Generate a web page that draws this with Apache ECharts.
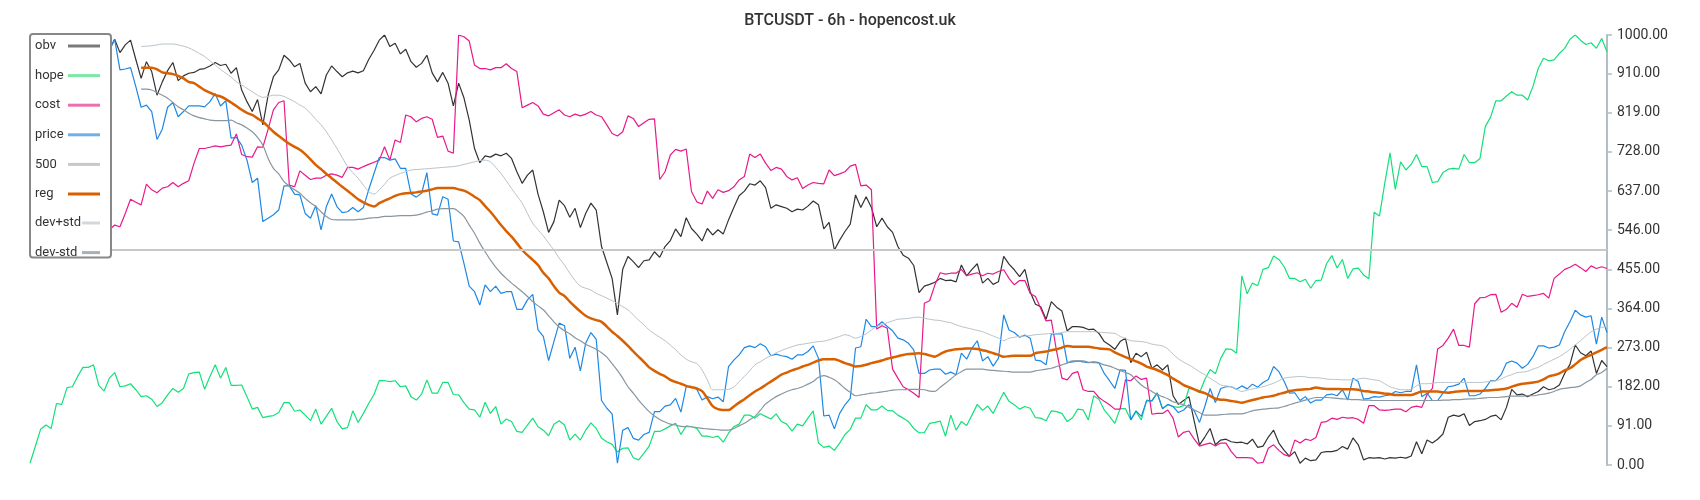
<!DOCTYPE html>
<html>
<head>
<meta charset="utf-8">
<script src="https://cdn.jsdelivr.net/npm/echarts/dist/echarts.min.js"></script>
<style>html,body{margin:0;padding:0;background:#fff}#chart{width:1700px;height:500px}</style>
</head>
<body>
<div id="chart"></div>
<script>
const N = 299;
const categories = Array.from({length: N}, (_, i) => i);
const yTickStep = 91;
const levelLine = 500;

const obv = [880,900,915,930,925,945,960,950,968,975,970,982,990,978,970,965,
990,959,977,988,943,
899,938,915,860,891,917,936,894,905,911,
913,920,922,928,936,929,932,911,924,872,
845,822,850,791,860,903,919,953,942,926,
934,888,868,880,863,907,928,915,903,912,
916,912,917,943,964,988,1000,973,981,956,
967,938,925,934,953,912,891,913,888,835,
888,854,802,736,703,719,716,723,719,725,
713,682,655,674,686,630,589,541,566,616,
603,576,597,552,585,609,593,508,471,434,
349,455,485,473,459,475,477,496,483,508,
522,549,531,575,550,537,521,550,535,547,
537,570,599,626,637,654,651,661,645,597,
605,601,597,589,595,593,602,614,605,549,
564,500,523,543,560,628,599,624,599,554,
574,554,541,508,488,481,464,401,416,420,
425,434,429,430,426,465,440,455,468,423,
434,420,426,485,467,454,438,455,403,374,
368,339,380,367,358,312,322,322,320,315,
316,306,287,279,269,287,295,238,260,252,
262,225,233,221,233,161,141,150,159,102,
47,65,85,47,58,60,54,52,53,49,
60,41,44,65,81,51,34,20,31,4,
16,10,12,29,31,31,34,43,37,63,
47,12,17,16,17,14,17,16,18,16,
21,54,26,58,51,60,72,111,116,113,
119,92,101,103,106,113,116,105,134,176,
163,165,159,165,171,182,175,178,186,213,
234,279,261,254,265,213,243,229];

const hope = [4,43,83,93,85,143,141,180,182,206,227,
227,233,185,172,202,215,182,184,189,175,
159,161,153,136,145,163,178,169,178,212,
215,216,176,206,233,202,227,185,185,186,
159,130,134,110,113,115,122,145,145,125,
128,116,103,130,95,113,132,101,84,87,
126,99,120,143,164,196,196,194,196,182,
184,159,151,165,198,167,167,192,192,164,
163,145,130,128,111,146,120,136,95,107,
101,78,76,93,109,89,81,68,95,103,
93,58,72,58,81,98,85,62,54,48,
30,39,40,17,12,27,44,78,78,84,
91,97,71,91,89,85,67,67,64,67,
53,74,89,95,116,116,109,119,113,107,
119,101,95,79,95,91,109,126,51,41,
44,34,51,71,83,109,109,140,128,128,
137,127,126,116,109,101,85,75,75,97,
99,102,67,116,81,101,92,116,141,127,
137,120,145,169,148,140,130,136,132,110,
109,103,126,124,120,101,110,130,128,105,
161,153,128,113,97,131,131,105,124,105,
151,149,168,131,140,136,134,138,178,177,
168,199,222,212,248,270,269,260,440,398,
423,417,455,459,486,478,461,434,434,426,
432,411,429,430,468,487,458,478,434,456,
458,442,433,588,579,655,726,641,705,686,
699,722,694,694,657,659,680,688,690,688,
722,703,703,713,787,809,847,847,858,868,
860,860,849,880,922,946,940,942,957,969,
990,1000,988,978,982,969,992,961];

const cost = [520,525,530,528,535,540,538,545,542,548,550,546,552,548,545,
547,558,554,585,618,611,
605,653,640,633,644,647,657,647,655,661,
702,736,736,739,742,740,742,744,770,722,
717,716,740,739,781,826,843,847,651,647,
684,674,664,667,667,674,677,674,669,692,
692,688,694,699,704,709,740,709,756,750,
814,810,798,806,810,804,762,765,730,725,
1000,996,986,930,922,922,919,924,924,933,
922,915,831,837,843,835,816,812,819,826,
814,810,816,812,816,822,814,810,791,771,
765,775,812,806,787,796,804,805,664,682,
721,734,730,735,636,612,607,637,620,640,
634,638,647,663,671,723,715,723,702,685,
692,688,671,663,668,643,651,657,655,654,
686,673,677,682,695,699,649,651,640,316,
324,318,223,202,182,175,167,157,376,382,
419,447,444,446,446,455,440,444,447,440,
446,444,450,454,434,419,429,429,399,392,
364,335,337,264,202,198,213,217,175,171,
171,157,148,140,130,130,198,196,207,199,
202,118,120,120,128,109,65,76,79,60,
44,48,51,44,51,51,31,17,17,17,
16,4,6,39,47,34,24,20,58,51,
60,57,64,99,101,109,106,111,109,110,
106,97,138,138,128,127,128,130,130,124,
134,137,134,164,178,270,278,295,316,278,
278,274,375,389,390,396,397,355,362,376,
367,397,392,394,396,399,388,434,444,455,
460,467,459,450,463,457,461,457];

const price = [905,925,940,955,945,962,975,968,982,990,985,972,988,995,978,965,
990,919,921,924,880,
832,837,822,757,781,832,843,810,822,835,
835,835,833,845,864,835,847,760,762,744,
709,657,667,566,574,582,593,649,649,630,
628,585,574,603,547,601,630,601,587,589,
599,589,599,640,678,715,715,709,712,690,
690,630,623,632,680,584,581,624,618,521,
519,469,416,403,372,419,403,416,399,403,
403,362,362,384,397,314,299,243,287,330,
324,248,274,219,283,308,292,150,132,119,
4,81,87,62,58,71,76,124,124,137,
140,155,123,182,182,176,151,159,154,158,
147,229,244,256,273,277,273,282,275,254,
258,254,252,246,256,256,264,277,248,114,
116,84,120,140,155,272,275,339,322,322,
333,322,312,295,291,283,268,213,213,221,
223,223,211,216,210,260,246,272,289,242,
252,230,248,349,314,308,297,302,295,244,
242,233,305,305,305,238,240,242,240,238,
240,238,213,196,178,221,220,105,126,113,
149,149,167,131,141,136,122,128,140,126,
99,136,178,145,178,182,182,176,184,177,
188,181,192,199,229,217,194,167,168,150,
159,144,151,151,163,165,161,175,151,202,
194,153,155,159,158,161,163,171,168,171,
171,233,159,167,150,150,167,182,184,188,
202,161,161,165,178,196,196,210,237,242,
237,225,234,252,277,277,272,274,279,310,
333,360,349,344,347,281,344,308];

const reg = [null,null,null,null,null,null,null,null,null,null,
null,null,null,null,null,null,null,null,null,null,
null,
924,924,924,920,913,911,909,905,899,891,
888,880,872,866,860,857,851,843,835,826,
819,814,806,798,787,775,765,756,747,740,
733,723,711,698,688,677,667,657,647,638,
628,618,611,605,601,609,615,620,626,630,
632,633,634,636,638,641,644,644,644,644,
641,638,632,624,616,602,589,574,558,544,
531,516,500,488,477,465,447,434,416,401,
393,380,368,357,347,341,337,333,322,310,
300,289,277,264,252,240,227,219,212,206,
198,193,189,184,181,178,172,155,137,130,
128,128,136,145,153,162,171,178,186,194,
202,210,215,220,224,229,233,238,243,246,
246,246,242,237,233,229,230,233,237,240,
243,247,250,253,256,258,259,260,258,255,
252,258,264,267,269,270,271,271,270,267,
264,260,256,252,253,254,254,254,254,260,
262,264,267,269,273,277,275,275,275,275,
273,271,270,269,262,256,251,246,241,236,
229,225,221,215,209,201,194,186,181,176,
171,167,161,154,152,151,149,147,145,148,
151,154,157,159,161,165,168,172,174,175,
176,177,180,178,177,177,177,176,176,176,
175,172,171,169,168,166,165,163,163,163,
163,167,171,171,171,171,169,168,170,171,
172,172,172,172,173,174,175,176,178,182,
186,189,190,192,194,199,206,209,213,220,
225,234,244,251,256,262,268,274];

const devPlus = [null,null,null,null,null,null,null,null,null,null,
null,null,null,null,null,null,null,null,null,null,
null,
973,974,975,977,979,979,979,977,974,970,
964,957,950,940,930,920,911,902,891,884,
876,868,860,855,857,860,860,857,851,845,
837,830,818,804,791,775,756,736,715,694,
680,667,651,636,630,640,653,667,673,678,
682,686,687,688,689,690,691,692,693,694,
696,699,702,705,708,709,705,692,678,661,
643,626,609,585,562,547,533,516,500,481,
465,446,429,416,411,407,399,394,388,382,
376,368,361,349,337,326,314,305,297,289,
279,268,256,246,240,236,221,198,175,175,
175,176,181,194,206,219,233,240,248,254,
261,266,271,275,279,281,283,285,287,288,
291,295,299,303,300,295,299,305,314,322,
327,331,335,339,340,341,343,344,341,339,
337,336,333,331,326,322,319,316,313,310,
305,300,295,289,295,297,299,300,301,303,
304,305,306,306,308,310,310,310,310,310,
310,309,308,307,306,299,294,289,288,287,
285,281,279,277,270,258,247,239,233,225,
217,210,202,194,186,184,182,176,171,174,
177,179,182,186,190,196,202,204,205,206,
205,203,203,202,200,199,199,198,198,198,
200,202,200,198,196,189,182,178,175,175,
176,184,189,189,190,192,192,192,192,192,
192,192,192,192,193,195,196,200,206,210,
215,216,218,223,227,234,240,246,252,260,
269,279,289,300,310,316,320,322];

const devMinus = [null,null,null,null,null,null,null,null,null,null,
null,null,null,null,null,null,null,null,null,null,
null,
874,874,872,866,860,853,843,833,826,818,
812,808,805,802,801,801,801,802,796,791,
784,775,762,744,713,690,677,659,649,640,
632,620,610,601,589,578,571,570,570,570,
570,571,572,574,575,576,578,578,579,580,
580,580,581,584,588,591,595,596,596,596,
589,578,558,539,516,496,477,460,446,434,
423,413,403,392,380,370,361,347,333,321,
312,305,296,289,281,275,269,261,251,236,
220,202,182,167,151,137,124,114,106,100,
95,93,90,89,89,87,85,84,83,82,
81,81,85,91,97,105,113,127,142,151,
159,165,171,175,178,182,188,194,204,208,
204,198,189,178,169,161,163,165,167,168,
170,172,174,175,175,176,176,176,175,172,
171,181,190,200,210,217,223,223,223,223,
221,220,219,218,217,216,216,216,216,219,
221,223,225,229,233,237,242,242,242,239,
238,237,233,230,225,220,215,210,198,186,
178,171,164,159,154,147,144,140,134,128,
122,116,116,116,117,118,119,119,119,122,
126,128,130,131,132,133,136,140,144,147,
151,154,157,157,157,156,155,154,153,152,
152,151,151,150,150,150,150,150,150,150,
150,150,150,150,150,150,151,151,152,152,
153,154,154,155,156,157,157,158,159,160,
160,160,161,161,163,165,167,171,176,178,
180,181,184,192,199,210,215,225];

const lineColors = {obv:'#333333', hope:'#14e07a', cost:'#e8198b', price:'#1e88e5', '500':'#c8c8c8', reg:'#d86000', 'dev+std':'#b9c3ca', 'dev-std':'#8796a0'};
const legendColors = {obv:'#7a7a7a', hope:'#7ce8a6', cost:'#ec6fb0', price:'#6fb0ec', '500':'#c8c8c8', reg:'#d86000', 'dev+std':'#d3d8dc', 'dev-std':'#a6b0b7'};

const FONT = 'Roboto';
function legendItems(names){ return names.map(n => ({name:n, itemStyle:{color:legendColors[n]}})); }
function richText(w){ return {rich:{a:{width:w, align:'left', fontSize:13, lineHeight:14, fontFamily:FONT, color:'#333'}}}; }

function lineSeries(name, data, width, extra){
  return Object.assign({
    name, type:'line', data, symbol:'none', showSymbol:false,
    lineStyle:{width, color:lineColors[name]}, itemStyle:{color:lineColors[name]},
    emphasis:{disabled:true}, animation:false
  }, extra || {});
}

const chart = echarts.init(document.getElementById('chart'), null, {renderer:'canvas'});
chart.setOption({
  backgroundColor:'#ffffff',
  animation:false,
  title:{text:'BTCUSDT - 6h - hopencost.uk', left:'center', top:8,
    textStyle:{fontFamily:FONT, fontSize:16, fontWeight:500, color:'#333'}},
  legend:[
    {data:legendItems(['obv','hope','cost','price','500','reg']), orient:'vertical', left:30, top:34,
     align:'right', icon:'rect', itemWidth:32, itemHeight:3, itemGap:16.6,
     padding:[5.5,11,57,5], backgroundColor:'#fff', borderColor:'#888', borderWidth:2, borderRadius:3,
     formatter:n => '{a|' + n + '}', textStyle:richText(28), z:10},
    {data:legendItems(['dev+std','dev-std']), orient:'vertical', left:30, top:216.5,
     align:'right', icon:'rect', itemWidth:18, itemHeight:3, itemGap:16.6,
     padding:[0,11,0,5], formatter:n => '{a|' + n + '}', textStyle:richText(42), z:11}
  ],
  grid:{left:30, right:93, top:35, bottom:35},
  xAxis:{type:'category', data:categories, boundaryGap:false, show:false},
  yAxis:{type:'value', position:'right', min:0, max:1000, interval:yTickStep,
    splitLine:{show:false},
    axisLine:{show:true, lineStyle:{color:'#b0bec5', width:2}},
    axisTick:{show:true, length:5, lineStyle:{color:'#b0bec5', width:1.5}},
    axisLabel:{margin:10, color:'#333', fontSize:14, fontFamily:FONT, formatter:v => v.toFixed(2)}},
  series:[
    lineSeries('obv', obv, 1.2),
    lineSeries('hope', hope, 1.2),
    lineSeries('cost', cost, 1.2),
    lineSeries('price', price, 1.2),
    lineSeries('500', [], 2, {markLine:{silent:true, symbol:['none','none'], label:{show:false},
      lineStyle:{color:lineColors['500'], width:2, type:'solid'}, data:[{yAxis:levelLine}], animation:false}}),
    lineSeries('reg', reg, 2.5, {smooth:0.3}),
    lineSeries('dev+std', devPlus, 1, {smooth:0.3}),
    lineSeries('dev-std', devMinus, 1.2, {smooth:0.3})
  ]
});
</script>
</body>
</html>
